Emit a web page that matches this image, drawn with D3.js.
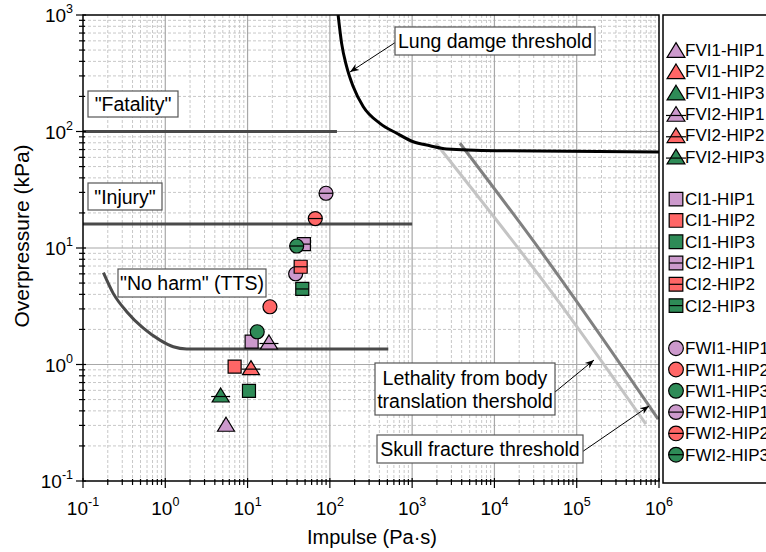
<!DOCTYPE html>
<html><head><meta charset="utf-8">
<script src="https://cdn.jsdelivr.net/npm/d3@7"></script>
<style>body{margin:0;background:#fff}svg{display:block}text{font-family:Arial,"Liberation Sans",sans-serif;fill:#000}</style>
</head><body><svg id="c" width="766" height="552"></svg>
<script>
// ---------- data ----------
const xDomain = [0.1, 1e6];
const yDomain = [0.1, 1000];
const xTickExps = [-1, 0, 1, 2, 3, 4, 5, 6];
const yTickExps = [-1, 0, 1, 2, 3];

const seriesNames = ["FVI1-HIP1","FVI1-HIP2","FVI1-HIP3","FVI2-HIP1","FVI2-HIP2","FVI2-HIP3",
                     "CI1-HIP1","CI1-HIP2","CI1-HIP3","CI2-HIP1","CI2-HIP2","CI2-HIP3",
                     "FWI1-HIP1","FWI1-HIP2","FWI1-HIP3","FWI2-HIP1","FWI2-HIP2","FWI2-HIP3"];
const seriesShape = ["tri","tri","tri","tri","tri","tri","sq","sq","sq","sq","sq","sq",
                     "circ","circ","circ","circ","circ","circ"];
const seriesHIP = [1,2,3,1,2,3,1,2,3,1,2,3,1,2,3,1,2,3];
const seriesVariant = [1,1,1,2,2,2,1,1,1,2,2,2,1,1,1,2,2,2];
const seriesImpulse  = [5.47, null, null, 18.2, 11.0, 4.71,
                        11.2, 6.96, 10.4, 48.4, 44.2, 46.2,
                        38.4, 18.7, 13.1, 89.8, 66.5, 39.5];
const seriesPressure = [0.307, null, null, 1.56, 0.94, 0.547,
                        1.57, 0.96, 0.593, 10.8, 6.9, 4.45,
                        6.01, 3.13, 1.91, 29.5, 17.9, 10.4];
const hipColors = ["#cc99cc", "#ff6666", "#2e8b57"];

const fatalityX = [0.1, 122];   const fatalityY = [100, 100];
const injuryX   = [0.1, 1000];  const injuryY   = [16.1, 16.1];
const ttsX = [0.177, 0.233, 0.34, 0.541, 0.862, 1.25, 1.82, 513];
const ttsY = [6.14, 4.08, 2.84, 2.05, 1.62, 1.42, 1.36, 1.36];
const lungX = [126, 139, 160, 192, 255, 406, 649, 1030, 1644, 2624, 10640, 1e6];
const lungY = [1000, 571, 360, 243, 163, 117.5, 96.6, 81.7, 75.5, 70.8, 68.4, 66.7];
const lethX = [1945, 62500, 693000];
const lethY = [79.3, 3.35, 0.308];
const skullX = [3810, 35700, 977000];
const skullY = [79.3, 9.62, 0.34];

// ---------- layout ----------
const M = {left: 83, right: 659, top: 15, bottom: 481};
const x = d3.scaleLog().domain(xDomain).range([M.left, M.right]);
const y = d3.scaleLog().domain(yDomain).range([M.bottom, M.top]);
const svg = d3.select("#c");

svg.append("defs").append("clipPath").attr("id","clip")
  .append("rect").attr("x",M.left).attr("y",M.top).attr("width",M.right-M.left).attr("height",M.bottom-M.top);
const mk = svg.select("defs").append("marker").attr("id","arr").attr("viewBox","0 0 10 10")
  .attr("refX",10).attr("refY",5).attr("markerWidth",9).attr("markerHeight",9).attr("orient","auto")
  .attr("markerUnits","userSpaceOnUse");
mk.append("path").attr("d","M0,1 L10,5 L0,9 L3,5 Z").attr("fill","#000");

// grid
const minorX = [], minorY = [];
for (let e = -1; e < 6; e++) for (let k = 2; k <= 9; k++) minorX.push(k * Math.pow(10, e));
for (let e = -1; e < 3; e++) for (let k = 2; k <= 9; k++) minorY.push(k * Math.pow(10, e));
const g = svg.append("g");
g.selectAll(".mx").data(minorX).join("line")
  .attr("x1",d=>x(d)).attr("x2",d=>x(d)).attr("y1",M.top).attr("y2",M.bottom)
  .attr("stroke","#c8c8c8").attr("stroke-dasharray","3,2").attr("stroke-width",1);
g.selectAll(".my").data(minorY).join("line")
  .attr("y1",d=>y(d)).attr("y2",d=>y(d)).attr("x1",M.left).attr("x2",M.right)
  .attr("stroke","#c8c8c8").attr("stroke-dasharray","3,2").attr("stroke-width",1);
g.selectAll(".Mx").data(xTickExps.slice(1,-1)).join("line")
  .attr("x1",d=>x(Math.pow(10,d))).attr("x2",d=>x(Math.pow(10,d))).attr("y1",M.top).attr("y2",M.bottom)
  .attr("stroke","#a8a8a8").attr("stroke-width",1.2);
g.selectAll(".My").data(yTickExps.slice(1,-1)).join("line")
  .attr("y1",d=>y(Math.pow(10,d))).attr("y2",d=>y(Math.pow(10,d))).attr("x1",M.left).attr("x2",M.right)
  .attr("stroke","#a8a8a8").attr("stroke-width",1.2);

// threshold lines
const plot = svg.append("g").attr("clip-path","url(#clip)");
const lineGen = d3.line().x(d=>x(d[0])).y(d=>y(d[1])).curve(d3.curveMonotoneX);
const zip = (a,b) => a.map((v,i)=>[v,b[i]]);
plot.append("path").attr("d",lineGen(zip(fatalityX,fatalityY))).attr("stroke","#4a4a4a").attr("stroke-width",3).attr("fill","none");
plot.append("path").attr("d",lineGen(zip(injuryX,injuryY))).attr("stroke","#4a4a4a").attr("stroke-width",3).attr("fill","none");
plot.append("path").attr("d",lineGen(zip(ttsX,ttsY))).attr("stroke","#4a4a4a").attr("stroke-width",3).attr("fill","none");
plot.append("path").attr("d",lineGen(zip(lethX,lethY))).attr("stroke","#c4c4c4").attr("stroke-width",3).attr("fill","none");
plot.append("path").attr("d",lineGen(zip(skullX,skullY))).attr("stroke","#808080").attr("stroke-width",3).attr("fill","none");
plot.append("path").attr("d",lineGen(zip(lungX,lungY))).attr("stroke","#000").attr("stroke-width",3).attr("fill","none");

// markers
function markerPath(shape, s) {
  const p = d3.path();
  if (shape === "tri") { const w=8.5*s, h=7*s; p.moveTo(0,-h); p.lineTo(w,h); p.lineTo(-w,h); p.closePath(); }
  else if (shape === "sq") { const a=6.5*s; p.rect(-a,-a,2*a,2*a); }
  else { p.arc(0,0,7*s,0,2*Math.PI); }
  return p.toString();
}
function strikePath(shape, s) {
  const w = shape==="tri" ? 9.5*s : (shape==="sq" ? 6.5*s : 7*s);
  const yy = shape==="tri" ? 1.5*s : 0;
  return `M${-w},${yy}H${w}`;
}
function drawMarker(sel, i, s) {
  sel.append("path").attr("d",markerPath(seriesShape[i],s))
    .attr("fill",hipColors[seriesHIP[i]-1]).attr("stroke","#000").attr("stroke-width",1.2);
  if (seriesVariant[i] === 2)
    sel.append("path").attr("d",strikePath(seriesShape[i],s)).attr("stroke","#000").attr("stroke-width",1.2);
}
const order = d3.range(seriesNames.length).filter(i=>seriesImpulse[i]!=null)
  .sort((a,b)=> (seriesHIP[a]-seriesHIP[b]) || (a-b));
const pts = svg.append("g");
order.forEach(i => {
  const gg = pts.append("g").attr("transform",`translate(${x(seriesImpulse[i])},${y(seriesPressure[i])})`);
  drawMarker(gg, i, 1);
});

// frame
svg.append("rect").attr("x",M.left).attr("y",M.top).attr("width",M.right-M.left).attr("height",M.bottom-M.top)
  .attr("fill","none").attr("stroke","#000").attr("stroke-width",1.5);

// ticks
const ax = svg.append("g").attr("stroke","#000").attr("stroke-width",1.2);
xTickExps.forEach(e => { const v = x(Math.pow(10,e)); ax.append("line").attr("x1",v).attr("x2",v).attr("y1",M.bottom-3).attr("y2",M.bottom+7); });
minorX.forEach(d => { const v = x(d); ax.append("line").attr("x1",v).attr("x2",v).attr("y1",M.bottom-2).attr("y2",M.bottom+4); });
yTickExps.forEach(e => { const v = y(Math.pow(10,e)); ax.append("line").attr("y1",v).attr("y2",v).attr("x1",M.left-7).attr("x2",M.left+3); });
minorY.forEach(d => { const v = y(d); ax.append("line").attr("y1",v).attr("y2",v).attr("x1",M.left-4).attr("x2",M.left+2); });

// tick labels
xTickExps.forEach(e => {
  const t = svg.append("text").attr("x",x(Math.pow(10,e))).attr("y",M.bottom+34).attr("text-anchor","middle").attr("font-size",19);
  t.append("tspan").text("10");
  t.append("tspan").attr("dy",-9).attr("font-size",12.5).text(String(e));
});
yTickExps.forEach(e => {
  const t = svg.append("text").attr("x",M.left-10).attr("y",y(Math.pow(10,e))+7).attr("text-anchor","end").attr("font-size",19);
  t.append("tspan").text("10");
  t.append("tspan").attr("dy",-9).attr("font-size",12.5).text(String(e));
});

// axis titles
svg.append("text").attr("x",(M.left+M.right)/2+1).attr("y",544).attr("text-anchor","middle").attr("font-size",20).text("Impulse (Pa\u00b7s)");
svg.append("text").attr("transform","translate(29,236) rotate(-90)").attr("text-anchor","middle").attr("font-size",21).text("Overpressure (kPa)");

// annotations
function label(lines, cx, cy, w, h) {
  svg.append("rect").attr("x",cx-w/2).attr("y",cy-h/2).attr("width",w).attr("height",h)
    .attr("fill","#fff").attr("stroke","#555").attr("stroke-width",1.2);
  const lh = 23;
  lines.forEach((s,k) => {
    svg.append("text").attr("x",cx).attr("y",cy + (k-(lines.length-1)/2)*lh + 7)
      .attr("text-anchor","middle").attr("font-size",19.5).text(s);
  });
}
function arrow(x1,y1,x2,y2){
  svg.append("line").attr("x1",x1).attr("y1",y1).attr("x2",x2).attr("y2",y2)
    .attr("stroke","#000").attr("stroke-width",1).attr("marker-end","url(#arr)");
}
arrow(396, 42, 350, 72);
arrow(555, 392, 594, 360);
arrow(582, 452, 649, 406);
label(['"Fatality"'], 133, 104, 90, 26);
label(['"Injury"'], 125, 196.5, 74, 27);
label(['"No harm" (TTS)'], 192, 283, 148, 28);
label(['Lung damge threshold'], 495, 41, 200, 28);
label(['Lethality from body','translation thershold'], 465, 389, 180, 52);
label(['Skull fracture threshold'], 480, 449, 206, 28);

// legend
svg.append("rect").attr("x",663).attr("y",M.top).attr("width",140).attr("height",M.bottom-M.top+2)
  .attr("fill","#fff").attr("stroke","#000").attr("stroke-width",1.5);
const legRows = [0,1,2,3,4,5,7,8,9,10,11,12,14,15,16,17,18,19];
seriesNames.forEach((n,i) => {
  const yy = 50 + legRows[i]*21.3;
  const gg = svg.append("g").attr("transform",`translate(676,${yy})`);
  drawMarker(gg, i, 1.05);
  svg.append("text").attr("x",685).attr("y",yy+6).attr("font-size",17).text(n);
});
</script></body></html>
